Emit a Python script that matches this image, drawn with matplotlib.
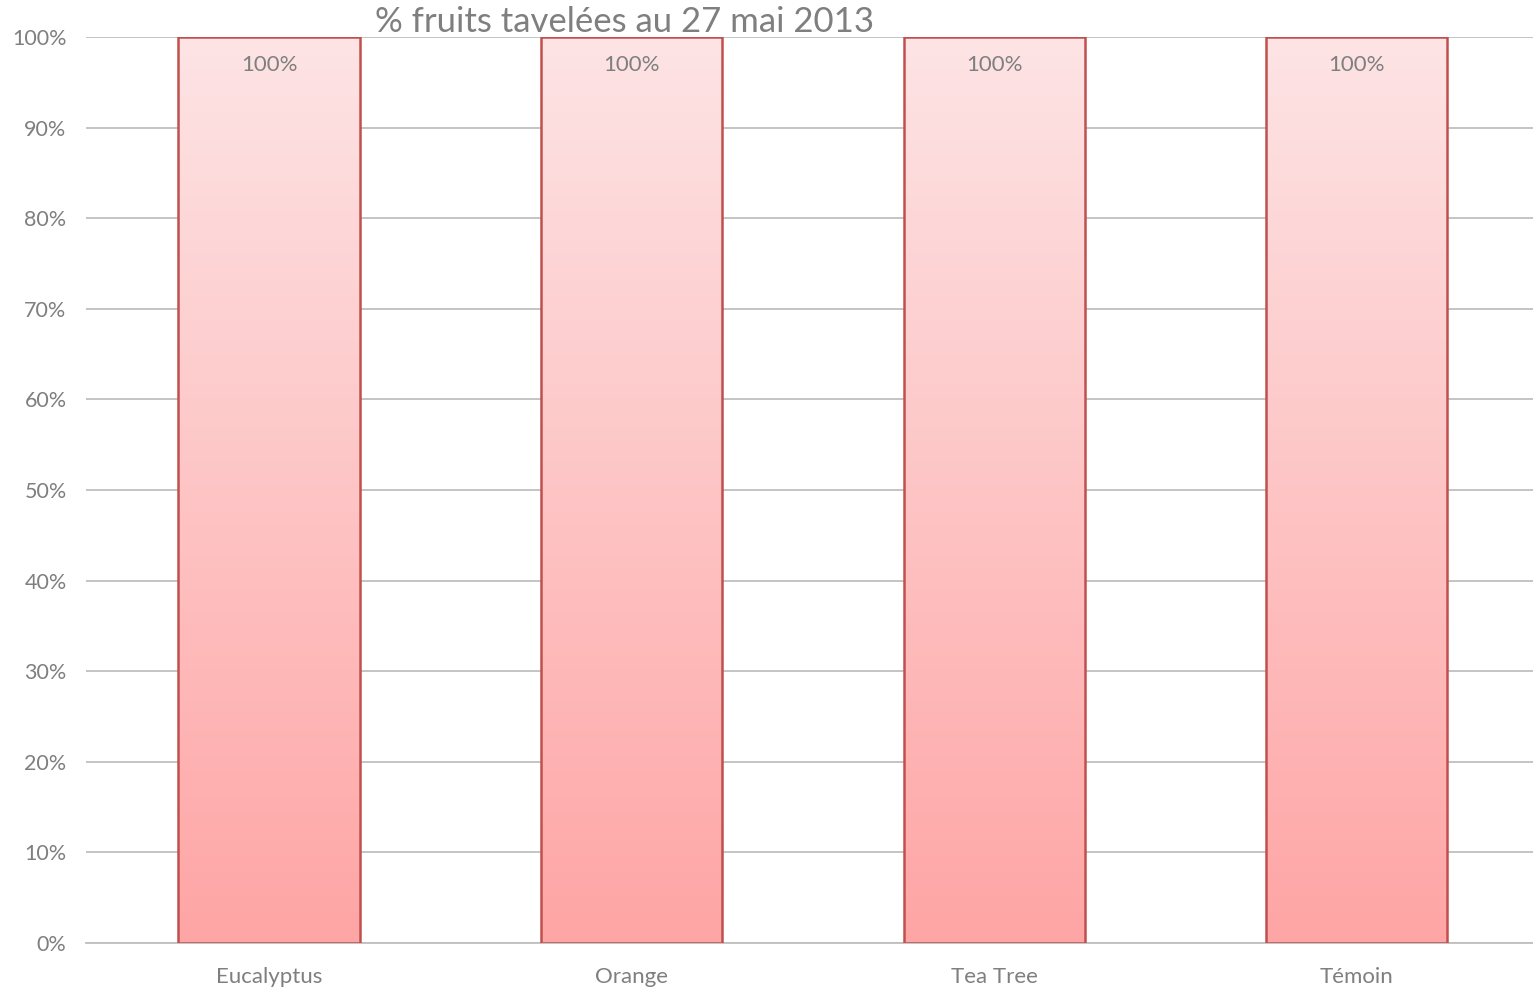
import matplotlib.pyplot as plt
import numpy as np
from matplotlib.colors import LinearSegmentedColormap
from matplotlib.ticker import PercentFormatter

# Données
categories = ['Eucalyptus', 'Orange', 'Tea Tree', 'Témoin']
valeurs = [100, 100, 100, 100]  # % fruits tavelés
titre = '% fruits tavelées au 27 mai 2013'

plt.rcParams['font.family'] = ['Lato', 'DejaVu Sans']
gris = '#7f7f7f'

fig = plt.figure(figsize=(15.33, 9.89), dpi=100)
ax = fig.add_axes([86 / 1533, 1 - 943 / 989, 1447 / 1533, (943 - 37) / 989])

x = np.arange(len(categories))
bars = ax.bar(x, valeurs, width=0.5, facecolor='none', edgecolor='#c0504d',
              linewidth=1.8, zorder=3)

# dégradé vertical dans chaque barre
cmap = LinearSegmentedColormap.from_list('rose', ['#ffa5a5', '#fde4e5'])
grad = np.linspace(0, 1, 256).reshape(-1, 1)
for b in bars:
    x0, w, h = b.get_x(), b.get_width(), b.get_height()
    im = ax.imshow(grad, cmap=cmap, origin='lower', aspect='auto',
                   extent=[x0, x0 + w, 0, h], zorder=2)
    im.set_clip_path(b)

for xi, v in zip(x, valeurs):
    ax.text(xi, v - 3.1, f'{v}%', ha='center', va='center', fontsize=16, color=gris, zorder=4)

ax.set_xlim(-0.505, 3.486)
ax.set_ylim(0, 100)
ax.set_yticks(np.arange(0, 101, 10))
ax.yaxis.set_major_formatter(PercentFormatter(decimals=0))
ax.set_xticks(x)
ax.set_xticklabels(categories)
ax.tick_params(axis='both', length=0, colors=gris)
ax.tick_params(axis='y', labelsize=15.5, pad=14)
ax.tick_params(axis='x', labelsize=16, pad=17)
ax.grid(axis='y', color='#bfbfbf', linewidth=1.3, zorder=0)
ax.set_axisbelow(True)
for s in ['top', 'right', 'left']:
    ax.spines[s].set_visible(False)
ax.spines['bottom'].set_color('#bfbfbf')
ax.spines['bottom'].set_linewidth(1.3)

fig.text(625 / 1533, 1 - 22 / 989, titre, ha='center', va='center', fontsize=25, color=gris)

fig.savefig('out.png', dpi=100)
